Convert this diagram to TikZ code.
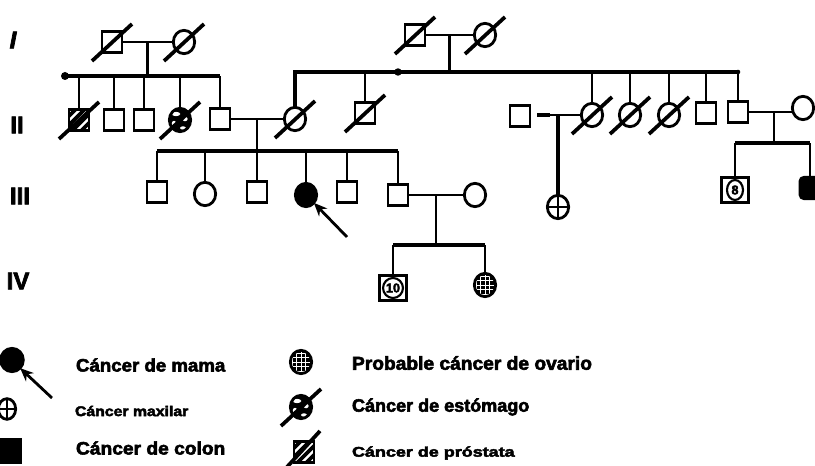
\documentclass[tikz,border=0pt]{standalone}
\usepackage{fontspec}
\setmainfont{Liberation Sans}
\newfontfamily\heavyfont{Liberation Sans Bold}[FakeBold=3]
\usetikzlibrary{shapes.geometric,calc,arrows.meta}
% heavy text stretched to a given width, height kept
\newcommand\legtext[3]{\resizebox{#1}{\height}{\fontsize{#2}{#2}\selectfont\heavyfont #3}}
% slash through a deceased individual
\newcommand\deadmark[1]{\draw[slashln] ($(#1)+(-20,19)$) -- ($(#1)+(20,-18)$);}
\begin{document}
\begin{tikzpicture}[x=0.75pt,y=-0.75pt,
  every node/.style={inner sep=0pt,outer sep=0pt},
  male/.style={draw,line width=2.1pt,rectangle,minimum width=15pt,minimum height=16pt},
  female/.style={draw,line width=2.1pt,ellipse,minimum width=16pt,minimum height=17.5pt},
  boxed/.style={draw,line width=2.3pt,rectangle,minimum width=20.5pt,minimum height=18.5pt},
  kin/.style={line width=1.9pt},
  sibs/.style={line width=2.7pt},
  slashln/.style={line width=2.8pt},
  pointer/.style={line width=2.1pt,-{Stealth[length=10pt,width=8.5pt]}},
  genlabel/.style={font=\fontsize{18}{18}\selectfont\heavyfont},
  numlabel/.style={draw,ellipse,line width=1.6pt,minimum width=12pt,minimum height=15pt,
    font=\fontsize{9.5}{9.5}\selectfont\heavyfont},
  ovgrid/.style={path picture={
    \fill[black] (path picture bounding box.south west) rectangle (path picture bounding box.north east);
    \foreach \k in {-9,-4.5,0,4.5,9}{
      \draw[white,line width=0.7pt] ($(path picture bounding box.center)+(\k,-16)$) -- ($(path picture bounding box.center)+(\k,16)$);
      \draw[white,line width=0.7pt] ($(path picture bounding box.center)+(-16,\k)$) -- ($(path picture bounding box.center)+(16,\k)$);
    }}},
  stspots/.style={path picture={
    \fill[black] (path picture bounding box.south west) rectangle (path picture bounding box.north east);
    \fill[white,rotate=-30] ($(path picture bounding box.center)+(-4,-6)$) ellipse (3.2pt and 1.6pt);
    \fill[white] ($(path picture bounding box.center)+(5,-1)$) ellipse (2pt and 1.7pt);
    \fill[white] ($(path picture bounding box.center)+(-6,4)$) ellipse (1.8pt and 2.4pt);
    \fill[white] ($(path picture bounding box.center)+(3,8)$) ellipse (2.2pt and 1.3pt);
    }},
  prhatch/.style={path picture={
    \foreach \k in {-14,-5,4,13}{
      \draw[black,line width=2.8pt] ($(path picture bounding box.center)+(\k-16,16)$) -- ($(path picture bounding box.center)+(\k+16,-16)$);
    }}},
]
\useasboundingbox (0,0) rectangle (815,466);

% generation numbers
\node[genlabel] (gI)   at (13,40)  {\itshape I};
\node[genlabel] (gII)  at (17,125) {II};
\node[genlabel] (gIII) at (20,196) {III};
\node[genlabel] (gIV)  at (18,281) {IV};

% ---------- generation I ----------
\node[male]   (i1) at (112,42) {};
\node[female] (i2) at (184,42) {};
\node[male]   (i3) at (415,35) {};
\node[female] (i4) at (485,35) {};
\deadmark{i1}\deadmark{i2}\deadmark{i3}\deadmark{i4}
\draw[kin] (i1.east) -- (i2.west);
\draw[kin] (i3.east) -- (i4.west);

% ---------- generation II ----------
\node[male,prhatch]  (ii1) at (79,120)  {};
\node[male]          (ii2) at (114,120) {};
\node[male]          (ii3) at (144,120) {};
\node[female,stspots](ii4) at (180,120) {};
\node[male]          (ii5) at (220,119) {};
\node[female]        (ii6) at (295,119) {};
\node[male]          (ii7) at (365,113) {};
\node[male]          (ii8) at (520,116) {};
\node[female]        (ii9) at (592,115) {};
\node[female]        (ii10) at (630,115) {};
\node[female]        (ii11) at (669,115) {};
\node[male]          (ii12) at (706,113) {};
\node[male]          (ii13) at (738,112) {};
\node[female]        (ii14) at (803,108) {};
\deadmark{ii1}\deadmark{ii4}\deadmark{ii6}\deadmark{ii7}
\deadmark{ii9}\deadmark{ii10}\deadmark{ii11}

% sibship of I1-I2
\coordinate (d1) at (65,76);
\coordinate (c1) at ($(i1.east)!0.5!(i2.west)$);
\draw[kin] (c1) -- (c1 |- d1);
\draw[sibs] (d1) -- (d1 -| ii5);
\fill (d1) circle (3pt);
\foreach \n in {ii1,ii2,ii3,ii4,ii5}{\draw[kin] (\n.north) -- (\n.north |- d1);}

% sibship of I3-I4
\coordinate (d2) at (398,72);
\coordinate (d3) at (738,72);
\coordinate (c2) at ($(i3.east)!0.5!(i4.west)$);
\draw[kin] (c2) -- (c2 |- d2);
\draw[line width=2.3pt] (ii6.north) |- (d3);
\fill (d2) circle (2.8pt);
\fill (d3) circle (1.7pt);
\foreach \n in {ii7,ii9,ii10,ii11,ii12,ii13}{\draw[kin] (\n.north) -- (\n.north |- d3);}

% ---------- generation III ----------
\node[male]              (iii1) at (157,192) {};
\node[female]            (iii2) at (205,194) {};
\node[male]              (iii3) at (257,192) {};
\node[female,fill=black] (iii4) at (306,195) {};
\node[male]              (iii5) at (347,192) {};
\node[male]              (iii6) at (398,195) {};
\node[female]            (iii7) at (475,195) {};
\node[female]            (iii8) at (558,207) {};
\node[boxed]             (iii9) at (735,190) {};
\node[numlabel] (n8) at (iii9) {8};
\node[male,fill=black,rounded corners=3pt] (iii10) at (810,188) {};

% couple II5-II6 and their children
\draw[kin] (ii5.east) -- (ii6.west);
\coordinate (c3) at ($(ii5.east)!0.5!(ii6.west)$);
\coordinate (s3) at (257,151);
\draw[kin] (c3) -- (c3 |- s3);
\draw[sibs] (iii1.north |- s3) -- (iii6.north |- s3);
\foreach \n in {iii1,iii2,iii3,iii4,iii5,iii6}{\draw[kin] (\n.north) -- (\n.north |- s3);}

% couple II8-II9 and their daughter
\coordinate (m4) at ($(ii8.east)+(7,-1)$);
\draw[kin] (m4) -- (m4 -| ii9.west);
\draw[line width=3pt] (m4) -- ++(13,0);
\draw[line width=2.6pt] (iii8.north |- m4) -- (iii8.north);
\draw[kin] (iii8.north) -- (iii8.south);
\draw[kin] (iii8.west) -- (iii8.east);

% couple II13-II14 and their children
\draw[kin] (ii13.east) -- (ii13.east -| ii14.west);
\coordinate (c5) at (774,112);
\coordinate (s5) at (774,143);
\draw[kin] (c5) -- (s5);
\draw[sibs] (iii9.north |- s5) -- (iii10.north |- s5);
\foreach \n in {iii9,iii10}{\draw[kin] (\n.north) -- (\n.north |- s5);}

% index case
\coordinate (tail) at (347,237);
\draw[pointer] (tail) -- (iii4.-45);

% ---------- generation IV ----------
\node[boxed]              (iv1) at (393,288) {};
\node[numlabel] (n10) at (iv1) {10};
\node[female,ovgrid]      (iv2) at (485,285) {};
\draw[kin] (iii6.east) -- (iii7.west);
\coordinate (c6) at ($(iii6.east)!0.5!(iii7.west)$);
\coordinate (s6) at (434,245);
\draw[kin] (c6) -- (c6 |- s6);
\draw[sibs] (iv1.north |- s6) -- (iv2.north |- s6);
\foreach \n in {iv1,iv2}{\draw[kin] (\n.north) -- (\n.north |- s6);}

% ---------- legend ----------
\node[female,fill=black,minimum width=17pt,minimum height=17.5pt] (lg1) at (12,360) {};
\coordinate (lgtail) at (52,398);
\draw[pointer] (lgtail) -- (lg1.-45);
\node[female,minimum width=13pt,minimum height=15.5pt] (lg2) at (7,409) {};
\draw[kin] (lg2.north) -- (lg2.south);
\draw[kin] (lg2.west) -- (lg2.east);
\node[rectangle,fill=black,minimum width=17.5pt,minimum height=20pt] (lg3) at (10,451) {};
\node[female,ovgrid] (lg4) at (301,362) {};
\node[female,stspots] (lg5) at (301,407) {};
\deadmark{lg5}
\node[male,prhatch] (lg6) at (304,452) {};
\draw[slashln] ($(lg6)+(-17,15)$) -- ($(lg6)+(16,-21)$);

\node[anchor=west] (t1) at (76,365) {\legtext{112pt}{13.5}{Cáncer de mama}};
\node[anchor=west] (t2) at (75,411) {\legtext{85pt}{10.5}{Cáncer maxilar}};
\node[anchor=west] (t3) at (76,448) {\legtext{112pt}{13.5}{Cáncer de colon}};
\node[anchor=west] (t4) at (352,363) {\legtext{180pt}{14}{Probable cáncer de ovario}};
\node[anchor=west] (t5) at (352,407) {\legtext{133pt}{13.5}{Cáncer de estómago}};
\node[anchor=west] (t6) at (352,453) {\legtext{122pt}{10.5}{Cáncer de próstata}};
\end{tikzpicture}
\end{document}
